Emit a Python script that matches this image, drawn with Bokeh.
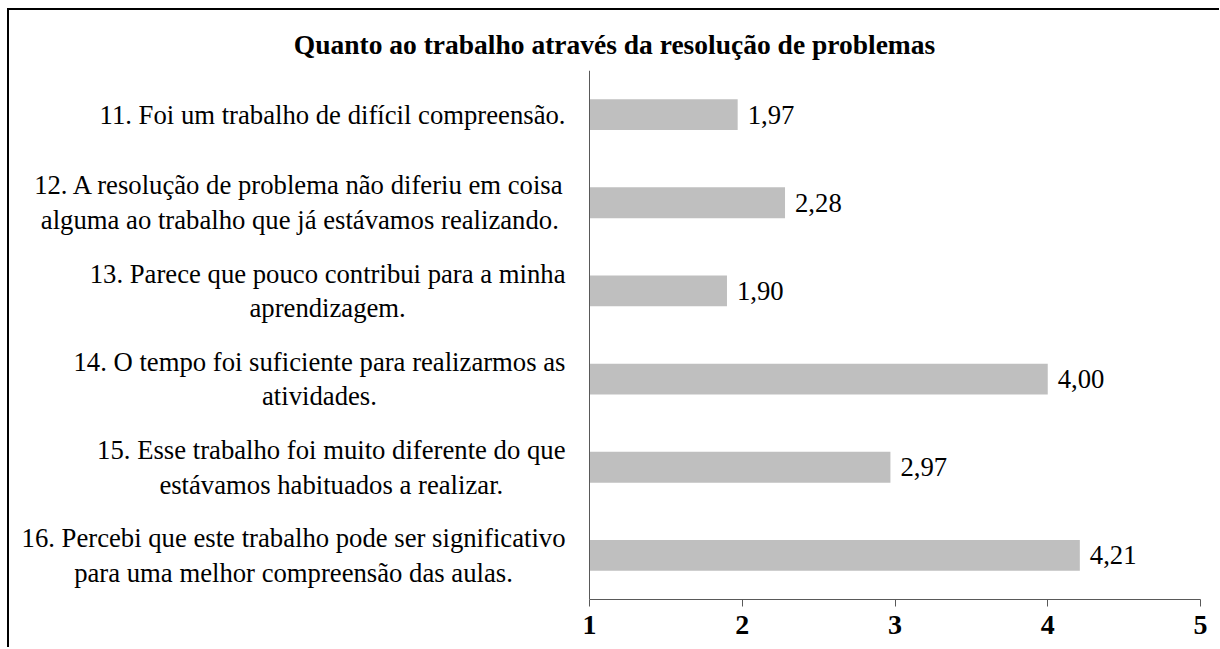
from bokeh.plotting import figure
from bokeh.models import Range1d, FactorRange, FixedTicker, Span
from bokeh.core.properties import value
from bokeh.embed import file_html
from bokeh.resources import INLINE

title = "Quanto ao trabalho através da resolução de problemas"
categories = [
    "11. Foi um trabalho de difícil compreensão.",
    "12. A resolução de problema não diferiu em coisa\nalguma ao trabalho que já estávamos realizando.",
    "13. Parece que pouco contribui para a minha\naprendizagem.",
    "14. O tempo foi suficiente para realizarmos as\natividades.",
    "15. Esse trabalho foi muito diferente do que\nestávamos habituados a realizar.",
    "16. Percebi que este trabalho pode ser significativo\npara uma melhor compreensão das aulas.",
]
values = [1.97, 2.28, 1.90, 4.00, 2.97, 4.21]
value_labels = [f"{v:.2f}".replace(".", ",") for v in values]
ticks = [1, 2, 3, 4, 5]
axis_origin = 1

FONT = "Liberation Serif"
px_per_unit = 152.75
frame_w = 1210
x_start = axis_origin - 580 / px_per_unit
x_end = x_start + frame_w / px_per_unit

p = figure(
    frame_width=frame_w, frame_height=529,
    x_range=Range1d(x_start, x_end),
    y_range=FactorRange(factors=list(reversed(categories)), range_padding=0),
    output_backend="svg", toolbar_location=None,
    min_border_left=0, min_border_right=0, min_border_top=60, min_border_bottom=48,
    title=title,
)
p.styles = {"border-left": "2px solid black", "border-top": "2px solid black",
            "margin-left": "7px", "margin-top": "8px"}
p.title.align = "center"
p.title.text_font = FONT
p.title.text_font_size = "27.5px"
p.title.text_font_style = "bold"
p.title.text_color = "black"
p.title.standoff = 22

p.outline_line_color = None
p.xgrid.visible = False
p.ygrid.visible = False
p.yaxis.visible = False

ax = p.xaxis[0]
ax.bounds = (ticks[0], ticks[-1])
ax.ticker = FixedTicker(ticks=ticks, minor_ticks=[])
ax.axis_line_color = "#595959"
ax.major_tick_line_color = "#595959"
ax.major_tick_out = 7
ax.major_tick_in = 0
ax.minor_tick_line_color = None
ax.major_label_text_font = FONT
ax.major_label_text_font_size = "28px"
ax.major_label_text_font_style = "bold"
ax.major_label_text_color = "black"
ax.major_label_standoff = 9

p.add_layout(Span(location=axis_origin, dimension="height", line_color="#595959", line_width=1))

p.hbar(y=categories, left=axis_origin, right=values, height=0.35,
       fill_color="#BFBFBF", line_color=None)

p.text(x=values, y=categories, text=value_labels, x_offset=10,
       text_align="left", text_baseline="middle",
       text_font=value(FONT), text_font_size="26.7px", text_color="black")

p.text(x=[axis_origin] * len(categories), y=categories, text=categories, x_offset=-24,
       anchor="center_right", text_align="center", text_baseline="middle",
       text_line_height=1.16,
       text_font=value(FONT), text_font_size="26.7px", text_color="black")

open("out.html", "w").write(file_html(p, INLINE))
